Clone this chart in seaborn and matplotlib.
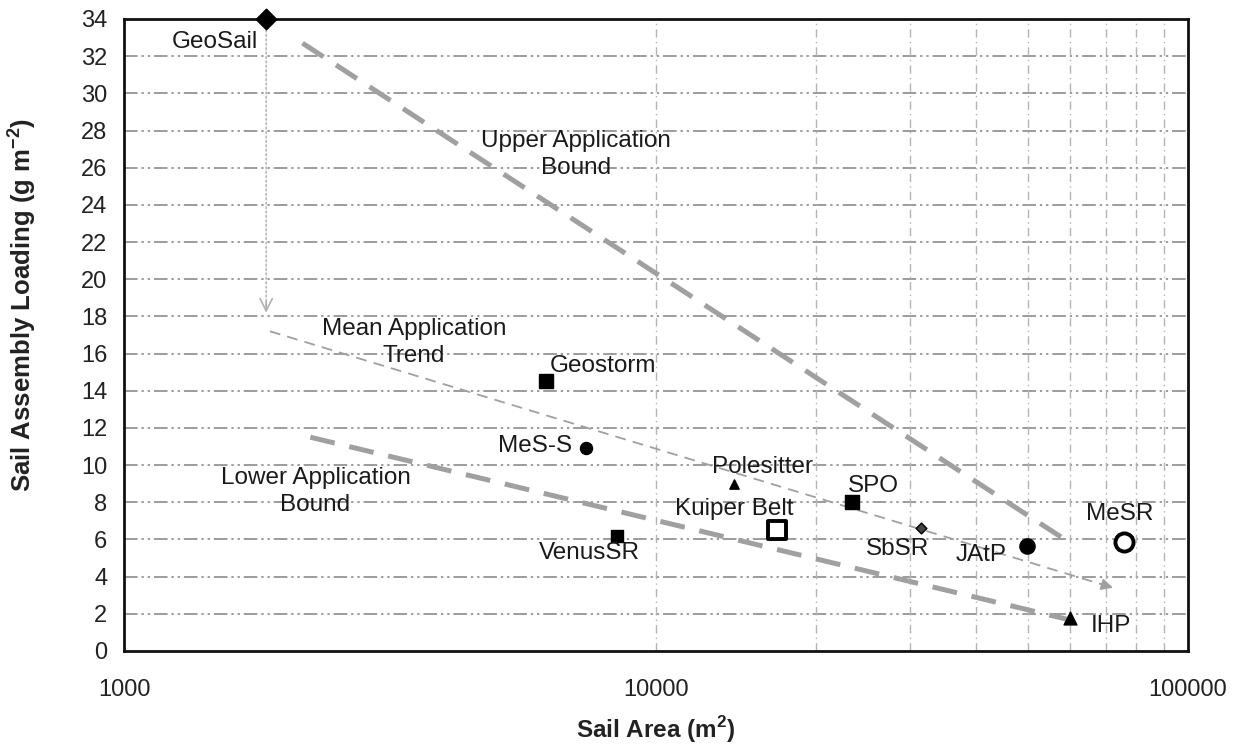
import numpy as np
import pandas as pd
import matplotlib
matplotlib.use("Agg")
import matplotlib.pyplot as plt
from matplotlib.ticker import FixedLocator, NullFormatter, FixedFormatter
import seaborn as sns

# ---- mission data: sail area (m^2) and sail assembly loading (g m^-2) ----
missions = ["GeoSail", "Geostorm", "MeS-S", "VenusSR", "Polesitter",
            "Kuiper Belt", "SPO", "SbSR", "JAtP", "MeSR", "IHP"]
sail_area = [1850, 6200, 7400, 8450, 14000, 16900, 23400, 31500, 49800, 75900, 60000]
loading = [34.0, 14.5, 10.9, 6.2, 9.0, 6.5, 8.0, 6.6, 5.65, 5.85, 1.8]

# ---- application bounds and trend ----
upper_x = [2165, 57950]
upper_y = [32.7, 6.1]
lower_x = [2240, 59400]
lower_y = [11.5, 1.7]
mean_x = [1880, 72300]
mean_y = [17.2, 3.4]

# GeoSail re-scaled loading (arrow from the original point)
geosail_arrow_y = [33.4, 18.2]

y_ticks = list(range(0, 35, 2))
x_major = [1000, 10000, 100000]
x_minor = [20000, 30000, 40000, 50000, 60000, 70000, 80000, 90000]

# marker styles: (marker, size, face, edge, edge width)
styles = {
    "GeoSail": ("D", 110, "black", "black", 1.0),
    "Geostorm": ("s", 110, "black", "black", 1.0),
    "MeS-S": ("o", 75, "black", "black", 1.0),
    "VenusSR": ("s", 80, "black", "black", 1.0),
    "Polesitter": ("^", 45, "black", "black", 1.0),
    "Kuiper Belt": ("s", 170, "white", "black", 2.8),
    "SPO": ("s", 95, "black", "black", 1.0),
    "SbSR": ("D", 30, "#444444", "black", 1.0),
    "JAtP": ("o", 120, "black", "black", 1.0),
    "MeSR": ("o", 170, "white", "black", 2.8),
    "IHP": ("^", 85, "black", "black", 1.0),
}
# label offsets (points) and alignment
label_pos = {
    "GeoSail": ((-6, -16.5), "right"),
    "Geostorm": ((3, 11), "left"),
    "MeS-S": ((-10, 2), "right"),
    "VenusSR": ((-20, -12.5), "center"),
    "Polesitter": ((21, 12), "center"),
    "Kuiper Belt": ((-31, 15), "center"),
    "SPO": ((-3.5, 12), "left"),
    "SbSR": ((-17, -15), "center"),
    "JAtP": ((-33, -6.5), "center"),
    "MeSR": ((-3.5, 20), "center"),
    "IHP": ((15, -6), "left"),
}

sns.set_theme(style="white")
plt.rcParams["font.family"] = ["Liberation Sans", "DejaVu Sans"]
plt.rcParams["mathtext.fontset"] = "custom"
plt.rcParams["mathtext.rm"] = "Liberation Sans"
plt.rcParams["mathtext.bf"] = "Liberation Sans:bold"

fig = plt.figure(figsize=(12.43, 7.48), dpi=100)
ax = fig.add_axes([0.0998, 0.1297, 0.8559, 0.8449])
ax.set_xscale("log")
ax.set_xlim(1000, 100000)
ax.set_ylim(0, 34)

grid_col = "#9c9c9c"
# horizontal grid (dash-dot-dot)
for yv in y_ticks[1:-1]:
    ax.axhline(yv, color=grid_col, lw=1.4, ls=(0, (7, 2, 1.2, 2, 1.2, 2)), zorder=0)
# vertical grid (dash-dot), only over the upper decade
for xv in [10000] + x_minor:
    ax.axvline(xv, color="#b4b4b4", lw=1.0, ls=(0, (6, 3, 1, 3)), zorder=0)

line_col = "#a0a0a0"
sns.lineplot(x=upper_x, y=upper_y, ax=ax, color=line_col, lw=3.6,
             linestyle=(0, (5, 3)), zorder=2)
sns.lineplot(x=lower_x, y=lower_y, ax=ax, color=line_col, lw=3.6,
             linestyle=(0, (5, 3)), zorder=2)
sns.lineplot(x=mean_x, y=mean_y, ax=ax, color=line_col, lw=1.3,
             linestyle=(0, (6, 4)), zorder=2)

# arrow head at the end of the trend line
def head(xs, ys, lw, ms):
    lx = np.log10(xs)
    t = 0.985
    x0 = 10 ** (lx[0] + t * (lx[1] - lx[0]))
    y0 = ys[0] + t * (ys[1] - ys[0])
    ax.annotate("", xy=(xs[1], ys[1]), xytext=(x0, y0),
                arrowprops=dict(arrowstyle="-|>", color=line_col, lw=lw,
                                mutation_scale=ms, shrinkA=0, shrinkB=0), zorder=2)

head(mean_x, mean_y, 1.3, 17)

# GeoSail re-scaling arrow
ax.annotate("", xy=(sail_area[0], geosail_arrow_y[1]),
            xytext=(sail_area[0], geosail_arrow_y[0]),
            arrowprops=dict(arrowstyle="-", color="#b8b8b8", lw=1.2,
                            linestyle=":", shrinkA=0, shrinkB=0), zorder=1)
ax.annotate("", xy=(sail_area[0], geosail_arrow_y[1]),
            xytext=(sail_area[0], geosail_arrow_y[1] + 0.6),
            arrowprops=dict(arrowstyle="->", color="#b0b0b0", lw=1.2,
                            mutation_scale=22, shrinkA=0, shrinkB=0), zorder=1)

df = pd.DataFrame({"mission": missions, "area": sail_area, "loading": loading})
for _, r in df.iterrows():
    m, s, fc, ec, lw = styles[r["mission"]]
    sns.scatterplot(x=[r["area"]], y=[r["loading"]], ax=ax, marker=m, s=s,
                    color=fc, edgecolor=ec, linewidth=lw, zorder=5, clip_on=False)
    off, ha = label_pos[r["mission"]]
    ax.annotate(r["mission"], (r["area"], r["loading"]), xytext=off,
                textcoords="offset points", ha=ha, va="center",
                fontsize=17.5, color="#1a1a1a", zorder=6)

txt_kw = dict(ha="center", va="center", fontsize=17.5, color="#1a1a1a",
              linespacing=1.3, zorder=6)
ax.text(7070, 26.7, "Upper Application\nBound", **txt_kw)
ax.text(3510, 16.6, "Mean Application\nTrend", **txt_kw)
ax.text(2290, 8.6, "Lower Application\nBound", **txt_kw)

# axes, ticks
for sp in ax.spines.values():
    sp.set_color("#111111")
    sp.set_linewidth(2.0)
ax.set_yticks(y_ticks)
ax.set_yticklabels([str(v) for v in y_ticks])
ax.xaxis.set_major_locator(FixedLocator(x_major))
ax.xaxis.set_major_formatter(FixedFormatter([str(v) for v in x_major]))
ax.xaxis.set_minor_locator(FixedLocator(x_minor))
ax.xaxis.set_minor_formatter(NullFormatter())
ax.tick_params(axis="both", which="major", direction="inout", length=12,
               width=1.5, color="#111111", labelsize=17, labelcolor="#222222")
ax.tick_params(axis="x", which="minor", direction="inout", length=8,
               width=1.2, color="#111111")
ax.tick_params(axis="x", which="major", pad=14)
ax.tick_params(axis="y", which="major", pad=6)

ax.set_xlabel("Sail Area (m$^\\mathbf{2}$)", fontsize=17.5, fontweight="bold",
              color="#222222")
ax.set_ylabel("Sail Assembly Loading (g m$^\\mathbf{-2}$)", fontsize=18.5,
              fontweight="bold", color="#222222")
ax.xaxis.set_label_coords(0.5, -0.124)
ax.yaxis.set_label_coords(-0.096, 0.548)
ax.xaxis.label.set_va("center")
ax.yaxis.label.set_va("center")

fig.savefig("out.png", dpi=100)
